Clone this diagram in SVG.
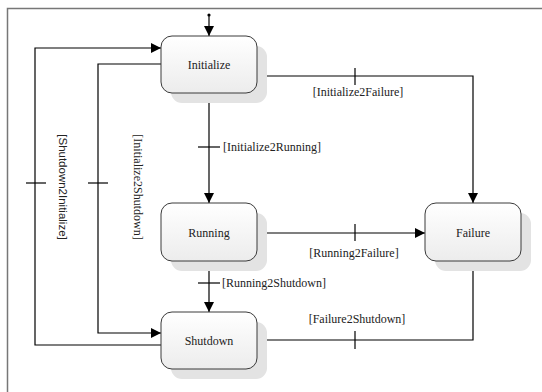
<svg xmlns="http://www.w3.org/2000/svg" width="542" height="392" viewBox="0 0 542 392">
<defs>
<linearGradient id="g" x1="0" y1="0" x2="0" y2="1">
<stop offset="0" stop-color="#ffffff"/>
<stop offset="1" stop-color="#ececec"/>
</linearGradient>
<marker id="arr" viewBox="0 0 10 10" refX="10" refY="5" markerWidth="10" markerHeight="10" markerUnits="userSpaceOnUse" orient="auto">
<path d="M0,0 L10,5 L0,10 z" fill="#000"/>
</marker>
<style>
.shadow{fill:#e3e3e3;stroke:none}
.box{fill:url(#g);stroke:#3a3a3a;stroke-width:1}
.nt{font-family:"Liberation Serif","Times New Roman",serif;font-size:12px;fill:#222;text-anchor:middle}
.lbl{font-family:"Liberation Serif","Times New Roman",serif;font-size:12px;fill:#222}
.sans{font-family:"Liberation Sans",Arial,sans-serif;font-size:11.5px;fill:#222}
.c{fill:none;stroke:#000;stroke-width:1.2}
.tick{stroke:#000;stroke-width:1.2}
</style>
</defs>
<rect x="0" y="0" width="542" height="392" fill="#fff"/>
<path d="M7.5,392 V8.5 H542" fill="none" stroke="#777" stroke-width="1.5"/>

<g id="connectors">
<circle cx="209" cy="15" r="1.6" fill="#000"/>
<line class="c" x1="209" y1="15" x2="209" y2="36" marker-end="url(#arr)"/>
<line class="c" x1="209" y1="93" x2="209" y2="203" marker-end="url(#arr)"/>
<line class="tick" x1="198" y1="147" x2="220" y2="147"/>
<text class="lbl" x="223" y="151">[Initialize2Running]</text>

<path class="c" d="M257,76 H473 V203" marker-end="url(#arr)"/>
<line class="tick" x1="355" y1="68" x2="355" y2="85"/>
<text class="lbl" x="358" y="96" text-anchor="middle">[Initialize2Failure]</text>

<line class="c" x1="257" y1="233" x2="425" y2="233" marker-end="url(#arr)"/>
<line class="tick" x1="355" y1="224" x2="355" y2="241"/>
<text class="lbl" x="354" y="257" text-anchor="middle">[Running2Failure]</text>

<line class="c" x1="209" y1="261" x2="209" y2="312" marker-end="url(#arr)"/>
<line class="tick" x1="198" y1="283" x2="220" y2="283"/>
<text class="lbl" x="222" y="287">[Running2Shutdown]</text>

<path class="c" d="M473,261 V340 H257" marker-end="url(#arr)"/>
<line class="tick" x1="355" y1="331" x2="355" y2="349"/>
<text class="lbl" x="357" y="323" text-anchor="middle">[Failure2Shutdown]</text>

<path class="c" d="M161,345 H35 V48 H161" marker-end="url(#arr)"/>
<line class="tick" x1="26" y1="183" x2="46" y2="183"/>
<text class="sans" transform="translate(59,187) rotate(90)" text-anchor="middle">[Shutdown2Initialize]</text>

<path class="c" d="M161,64 H98 V333 H161" marker-end="url(#arr)"/>
<line class="tick" x1="88" y1="183" x2="108" y2="183"/>
<text class="lbl" transform="translate(134,187) rotate(90)" text-anchor="middle" font-size="13px">[Initialize2Shutdown]</text>
</g>

<g id="Initialize">
<rect class="shadow" x="171" y="46" width="96" height="57" rx="11"/>
<rect class="box" x="161" y="36" width="96" height="57" rx="11"/>
<text class="nt" x="209" y="69">Initialize</text>
</g>
<g id="Running">
<rect class="shadow" x="171" y="213" width="96" height="58" rx="11"/>
<rect class="box" x="161" y="203" width="96" height="58" rx="11"/>
<text class="nt" x="209" y="237">Running</text>
</g>
<g id="Failure">
<rect class="shadow" x="435" y="213" width="96" height="58" rx="11"/>
<rect class="box" x="425" y="203" width="96" height="58" rx="11"/>
<text class="nt" x="473" y="237">Failure</text>
</g>
<g id="Shutdown">
<rect class="shadow" x="171" y="322" width="96" height="57" rx="11"/>
<rect class="box" x="161" y="312" width="96" height="57" rx="11"/>
<text class="nt" x="209" y="345">Shutdown</text>
</g>
</svg>
